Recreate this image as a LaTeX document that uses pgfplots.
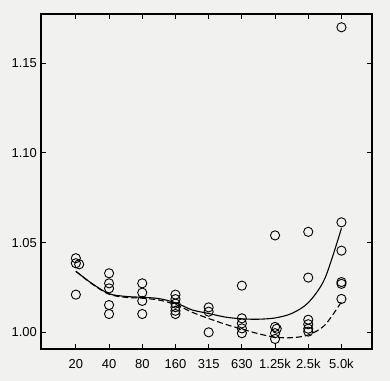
\documentclass[border=0pt]{standalone}
\usepackage{pgfplots}
\pgfplotsset{compat=1.18}
\usepackage{fontspec}
\setmainfont{Liberation Sans}
\definecolor{paper}{RGB}{241,241,239}
\begin{document}
\begin{tikzpicture}[x=1bp,y=1bp]
\fill[paper] (-41bp,-32bp) rectangle (349bp,349bp);
\begin{axis}[
  at={(0,0)}, anchor=south west,
  scale only axis, width=331bp, height=335bp,
  xmin=-1.05, xmax=8.92, ymin=0.9907, ymax=1.1774,
  xtick={0,...,8},
  xticklabels={20,40,80,160,315,630,1.25k,2.5k,5.0k},
  ytick={1.00,1.05,1.10,1.15},
  yticklabels={1.00,1.05,1.10,1.15},
  tick align=inside, major tick length=5bp,
  tick style={black, line width=0.9pt},
  axis line style={line width=1.1pt},
  /pgf/number format/assume math mode=true,
  xticklabel style={font=\fontsize{13}{15}\selectfont, inner sep=1bp, yshift=-9bp},
  yticklabel style={font=\fontsize{13}{15}\selectfont, inner sep=1bp, xshift=-3bp},
  clip=false,
]
\addplot[only marks, mark=o, mark size=4.6bp, mark options={line width=0.9pt, fill=none}, black] coordinates {
(0,1.0413) (0,1.0385) (0.1,1.0379) (0,1.021)
(1,1.0329) (1,1.0273) (1,1.0245) (1,1.0152) (1,1.0102)
(2,1.0273) (2,1.0221) (2,1.0175) (2,1.0102)
(3,1.0210) (3,1.0185) (3,1.0160) (3,1.0140) (3,1.0120) (3,1.0102)
(4,1.0139) (4,1.0115) (4,1.0000)
(5,1.0260) (5,1.0078) (5,1.0050) (5,1.0022) (5,0.9995)
(6,1.0540) (6,1.0030) (6.05,1.0020) (6,0.9995) (6,0.9963)
(7,1.0560) (7,1.0305) (7,1.0070) (7,1.0045) (7,1.0020) (7,1.0004)
(8,1.1700) (8,1.0613) (8,1.0455) (8,1.0280) (8,1.0270) (8,1.0186)
};
\addplot[smooth, black, line width=1.1pt] coordinates {
(0,1.0340) (0.5,1.0270) (1,1.0215) (1.5,1.0200) (2,1.0195) (2.5,1.0188)
(3,1.0165) (3.5,1.0125) (4,1.0105) (4.5,1.0085) (5,1.0075) (5.5,1.0073)
(6,1.0080) (6.5,1.0105) (7,1.0165) (7.5,1.0300) (8,1.0580)
};
\addplot[smooth, black, line width=1.1pt, dash pattern=on 6bp off 3bp] coordinates {
(0,1.0340) (0.5,1.0268) (1,1.0212) (1.5,1.0195) (2,1.0190) (2.5,1.0180)
(3,1.0155) (3.5,1.0112) (4,1.0077) (4.5,1.0045) (5,1.0018) (5.5,0.9992)
(6,0.9973) (6.5,0.9970) (7,0.9985) (7.5,1.0040) (8,1.0170)
};
\end{axis}
\end{tikzpicture}
\end{document}
